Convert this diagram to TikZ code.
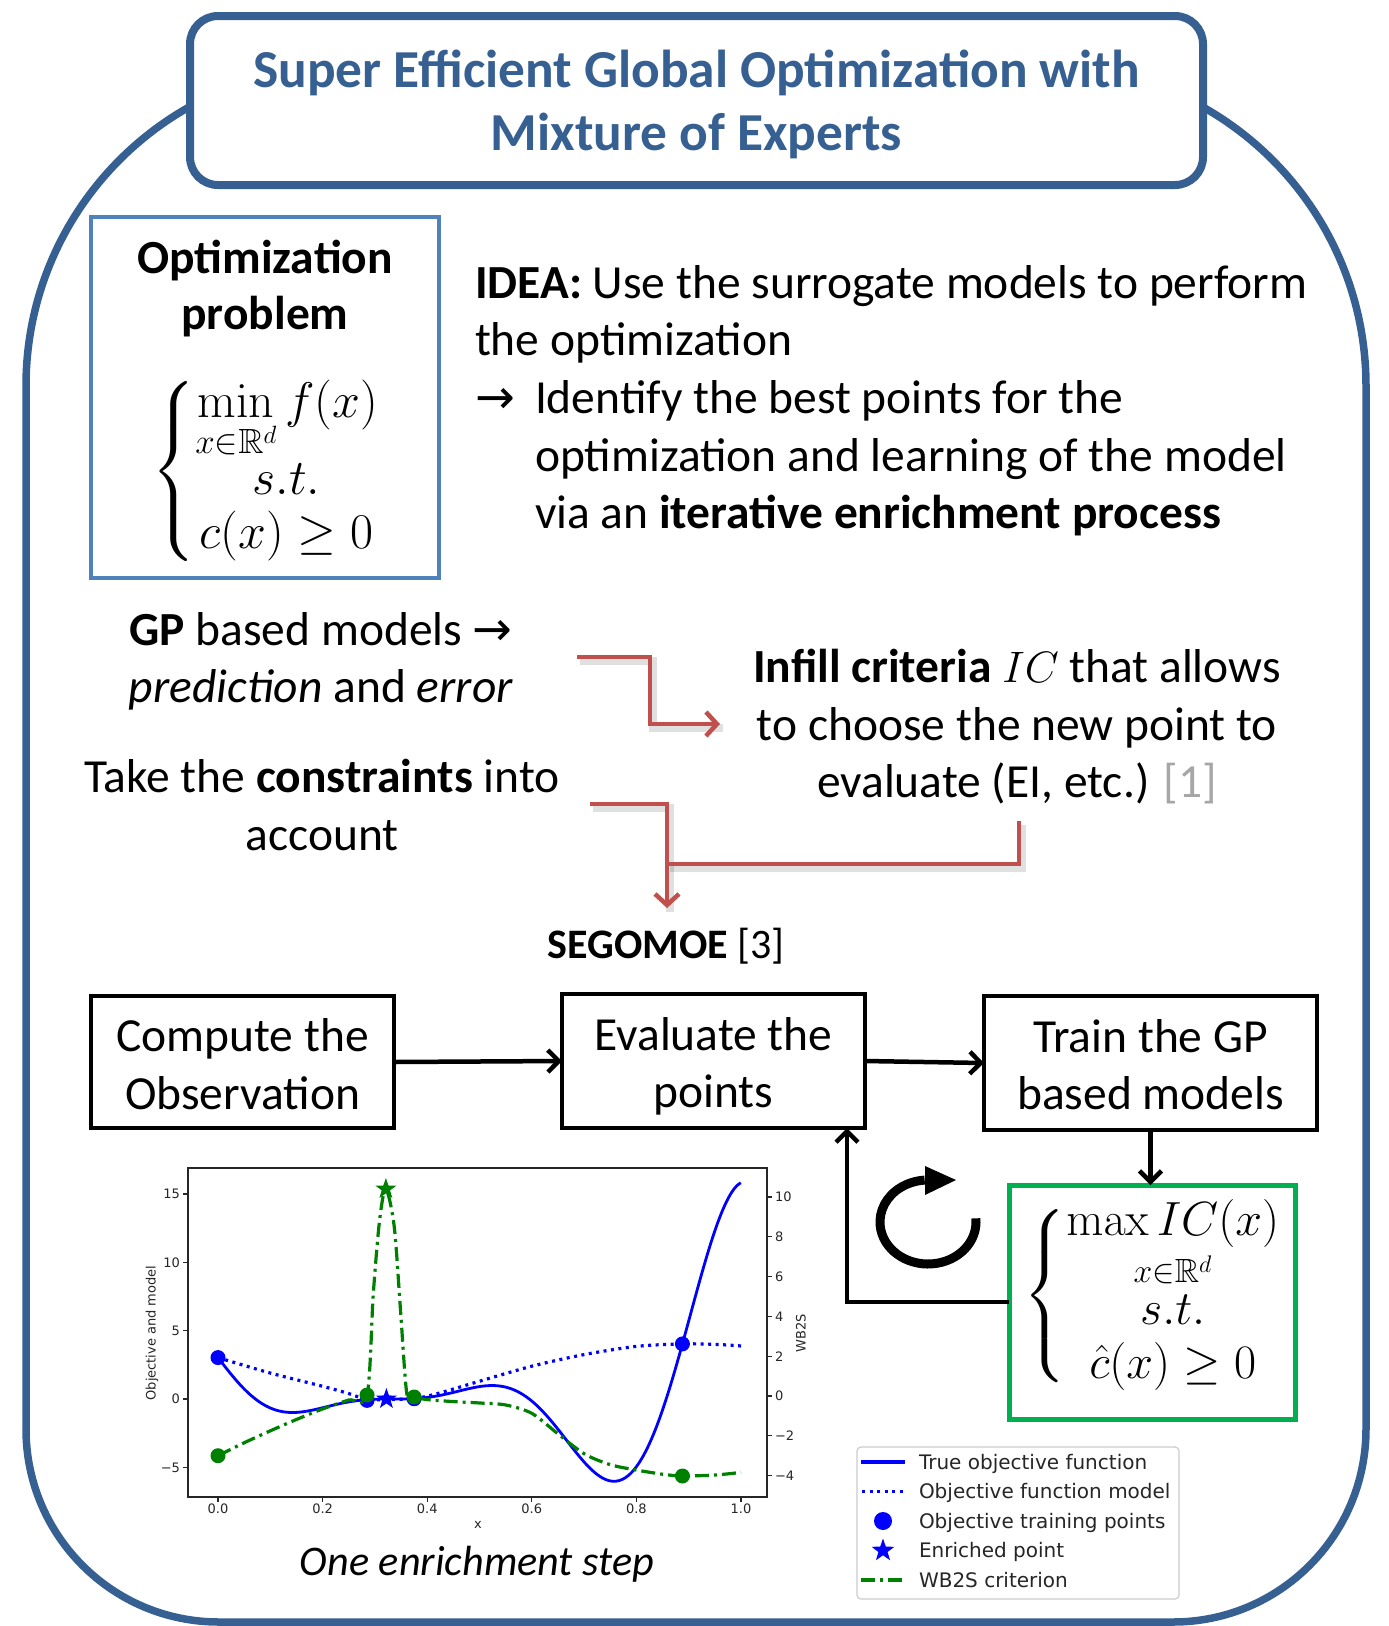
\RequirePackage{fix-cm}
\documentclass[tikz,border=0pt]{standalone}
\usepackage{amsmath,amssymb}
\usepackage[no-math]{fontspec}
\setmainfont{Carlito}
\newfontfamily\dejavu{DejaVu Sans}
\usetikzlibrary{arrows.meta,shapes.geometric}
\DeclareFontFamily{U}{msb}{}
\DeclareFontShape{U}{msb}{m}{n}{<-> msbm10}{}
\definecolor{dkblue}{HTML}{376092}
\definecolor{ltblue}{HTML}{4F81BD}
\definecolor{redc}{HTML}{C0504D}
\definecolor{grn}{HTML}{00B050}
\definecolor{mplgreen}{HTML}{008000}
\definecolor{refgray}{HTML}{A6A6A6}
\newcommand{\plotfont}{\dejavu\fontsize{13}{15}\selectfont}
\newcommand{\legfont}{\dejavu\fontsize{20}{24}\selectfont}
\newcommand{\shortbrace}{\delimiterfactor=850 \delimitershortfall=30pt }
\begin{document}
\begin{tikzpicture}[x=1pt,y=-1pt,
  every node/.style={inner sep=0pt,outer sep=0pt},
  body/.style={font=\fontsize{47.5}{57}\selectfont},
  titlef/.style={font=\fontsize{53.4}{63}\selectfont\bfseries,text=dkblue},
  procbox/.style={draw=black,line width=4.5,rectangle},
  blackarrow/.style={draw=black,line width=4.5,-{Straight Barb[length=11pt,width=22pt]}},
  redarrow/.style={draw=redc,line width=4.5},
  redtip/.style={-{Straight Barb[length=11pt,width=24pt]}},
  rshadow/.style={draw=black,opacity=0.12,line width=8},
  tick/.style={black!85,line width=1.2},
  ticklab/.style={font=\plotfont,text=black!85},
  objline/.style={blue,line width=2.8},
  modline/.style={blue,line width=3.2,dash pattern=on 3pt off 4.5pt},
  wbline/.style={mplgreen,line width=3.2,dash pattern=on 14pt off 5pt on 3pt off 5pt},
  bstar/.style={star,star points=5,star point ratio=2.5,fill=blue,minimum size=22pt},
  gstar/.style={star,star points=5,star point ratio=2.5,fill=mplgreen,minimum size=22pt}]
\useasboundingbox (0,0) rectangle (1389,1626);
\fill[white] (0,0) rectangle (1389,1626);

% outer frame
\draw[dkblue,line width=7.5] (700,66) -- (346,66) arc[start angle=-90,end angle=-180,radius=320]
  -- (26,1429) arc[start angle=180,end angle=90,radius=193]
  -- (1173,1622) arc[start angle=90,end angle=0,radius=193]
  -- (1366,386) arc[start angle=0,end angle=-90,radius=320] -- cycle;

% title
\node[draw=dkblue,line width=8,rounded corners=28pt,fill=white,minimum width=1013pt,minimum height=169pt] (T) at (696.5,100.5) {};
\node[titlef,anchor=base] (ti1) at (696.5,87) {Super Efficient Global Optimization with};
\node[titlef,anchor=base] (ti2) at (696.5,150) {Mixture of Experts};

% optimization problem box
\node[draw=ltblue,line width=4,minimum width=348pt,minimum height=361pt] (P) at (265,397.5) {};
\node[body,anchor=base] (op1) at (265,273) {\textbf{Optimization}};
\node[body,anchor=base] (op2) at (265,329) {\textbf{problem}};
\node (opm) at (265,471) {\fontsize{50}{60}\selectfont\shortbrace$\left\{\begin{array}{@{}c@{}}\min\limits_{x\in\mathbb{R}^d} f(x)\\[-8pt] s.t.\\[-6pt] c(x)\geq 0\end{array}\right.$};

% idea text
\node[body,anchor=base west] (id1) at (475,298) {\textbf{IDEA:} Use the surrogate models to perform};
\node[body,anchor=base west] (id2) at (475,355) {the optimization};
\node[body,anchor=base west] (id3a) at (475,413) {{\dejavu →}};
\node[body,anchor=base west] (id3) at (535,413) {Identify the best points for the};
\node[body,anchor=base west] (id4) at (535,471) {optimization and learning of the model};
\node[body,anchor=base west] (id5) at (535,528) {via an \textbf{iterative enrichment process}};

% middle texts
\node[body,anchor=base] (gp1) at (321,645) {\textbf{GP} based models {\dejavu →}};
\node[body,anchor=base] (gp2) at (321,702) {\textit{prediction} and \textit{error}};
\node[body,anchor=base] (tk1) at (322,792) {Take the \textbf{constraints} into};
\node[body,anchor=base] (tk2) at (322,850) {account};
\node[body,anchor=base] (in1) at (1017,682) {\textbf{Infill criteria} {\fontsize{44}{50}\selectfont$IC$} that allows};
\node[body,anchor=base] (in2) at (1017,740) {to choose the new point to};
\node[body,anchor=base] (in3) at (1017,797) {evaluate (EI, etc.) \textcolor{refgray}{[1]}};
\node[font=\fontsize{42}{50}\selectfont,anchor=base] (seg) at (666,958) {\textbf{SEGOMOE} [3]};

% red connectors
\coordinate (r1s) at (577,657);
\coordinate (r1e) at (720,724);
\coordinate (r2s) at (590,804);
\coordinate (r2e) at (667,908);
\coordinate (r3s) at (1019,821);
\coordinate (r3e) at (667,864);
\begin{scope}[transform canvas={shift={(3pt,-4pt)}}]
  \draw[rshadow] (r1s) -- (650,657) |- (r1e);
  \draw[rshadow] (r2s) -| (r2e);
  \draw[rshadow] (r3s) |- (r3e);
\end{scope}
\draw[redarrow,redtip] (r1s) -- (650,657) |- (r1e);
\draw[redarrow,redtip] (r2s) -| (r2e);
\draw[redarrow] (r3s) |- (r3e);

% process boxes
\node[procbox,minimum width=303pt,minimum height=132pt] (A) at (242.5,1062) {};
\node[procbox,minimum width=303pt,minimum height=134pt] (B) at (713.5,1061) {};
\node[procbox,minimum width=333pt,minimum height=134pt] (C) at (1150.5,1063) {};
\node[draw=grn,line width=5,minimum width=286pt,minimum height=234pt] (D) at (1152,1302) {};
\node[body,anchor=base] (a1) at (242.5,1051) {Compute the};
\node[body,anchor=base] (a2) at (242.5,1109) {Observation};
\node[body,anchor=base] (b1) at (713.5,1050) {Evaluate the};
\node[body,anchor=base] (b2) at (713.5,1107) {points};
\node[body,anchor=base] (c1) at (1150.5,1052) {Train the GP};
\node[body,anchor=base] (c2) at (1150.5,1109) {based models};
\node (dm) at (1152,1296) {\fontsize{48}{56}\selectfont\shortbrace$\left\{\begin{array}{@{}c@{}}\underset{x\in\mathbb{R}^d}{\max IC(x)}\\[-3pt] s.t.\\[-2pt] \hat{c}(x)\geq 0\end{array}\right.$};

\coordinate (Bin) at (847,1128);
\draw[blackarrow] (A.east) -- (B.west);
\draw[blackarrow] (B.east) -- (C.west);
\draw[blackarrow] (C.south) -- (C.south |- D.north);
\draw[blackarrow] (D.west) -| (Bin);

% cycle icon
\begin{scope}[shift={(928pt,-1222pt)},x=1pt,y=1pt]
  \draw[line width=9] (5:48pt and 42pt) arc[start angle=5,end angle=-266,x radius=48pt,y radius=42pt];
  \fill (-3,56) -- (28,42) -- (-3,27) -- cycle;
\end{scope}

% plot axes
\draw[black!85,line width=1.3] (188,1168) rectangle (767,1497);
\foreach \v/\t in {0/0.0,0.2/0.2,0.4/0.4,0.6/0.6,0.8/0.8,1/1.0}{
  \draw[tick] ({218+523*\v},1497) -- ({218+523*\v},1502);
  \node[ticklab,anchor=base] at ({218+523*\v},1513) {\t};
}
\foreach \v/\t in {15/15,10/10,5/5,0/0,-5/{−5}}{
  \draw[tick] (188,{1399-13.67*\v}) -- (183,{1399-13.67*\v});
  \node[ticklab,anchor=east] at (180,{1399-13.67*\v}) {\t};
}
\foreach \v/\t in {10/10,8/8,6/6,4/4,2/2,0/0,-2/{−2},-4/{−4}}{
  \draw[tick] (767,{1396-19.9*\v}) -- (772,{1396-19.9*\v});
  \node[ticklab,anchor=west] at (775,{1396-19.9*\v}) {\t};
}
\node[ticklab,rotate=90] (ylab) at (152,1333) {Objective and model};
\node[ticklab,rotate=90] (y2lab) at (801,1333) {WB2S};
\node[ticklab,anchor=base] (xlab) at (478,1528) {x};

% objective curves
\begin{scope}[shift={(218pt,-1399pt)},x=523pt,y=13.67pt]
  \draw[objline] plot[domain=0:1,samples=160,smooth] (\x,{(6*\x-2)^2*sin(deg(12*\x-4))});
  \draw[modline] plot[smooth] coordinates {(0,3.03) (0.1,1.9) (0.2,0.93) (0.25,0.4) (0.285,-0.04) (0.33,-0.03) (0.375,0.03) (0.42,0.4) (0.5,1.3) (0.6,2.4) (0.7,3.25) (0.8,3.85) (0.888,4.03) (0.95,4.0) (1.0,3.88)};
  \foreach \p/\q in {0/3.03,0.285/-0.1,0.375/0.02,0.888/4.03}{
    \fill[blue] (\p,\q) circle[radius=7.5pt];
  }
  \node[bstar] (estar) at (0.322,0) {};
\end{scope}
% WB2S
\begin{scope}[shift={(218pt,-1396pt)},x=523pt,y=19.9pt]
  \draw[wbline] plot[smooth,tension=0.5] coordinates {(0,-3.0) (0.05,-2.35) (0.1,-1.75) (0.15,-1.18) (0.2,-0.65) (0.25,-0.2) (0.285,0.05) (0.297,5.16) (0.309,8.84) (0.321,10.4) (0.337,8.5) (0.349,4.3) (0.361,0.13) (0.375,-0.05) (0.4,-0.18) (0.45,-0.28) (0.5,-0.35) (0.55,-0.45) (0.6,-0.87) (0.65,-1.9) (0.7,-2.9) (0.75,-3.45) (0.8,-3.72) (0.85,-3.93) (0.888,-4.02) (0.95,-3.97) (1.0,-3.84)};
  \foreach \p/\q in {0/-3.0,0.285/0.05,0.375/-0.05,0.888/-4.02}{
    \fill[mplgreen] (\p,\q) circle[radius=7.5pt];
  }
  \node[gstar] (wstar) at (0.321,10.4) {};
\end{scope}
\node[font=\fontsize{42.2}{50}\selectfont\itshape,anchor=base] (cap) at (477,1575) {One enrichment step};

% legend
\draw[black!20,line width=1.2,fill=white,rounded corners=4pt] (857,1447) rectangle (1179,1599);
\draw[objline,line width=3.5] (861,1462) -- (905,1462);
\draw[modline,line width=3.5] (862,1491.5) -- (905,1491.5);
\fill[blue] (883,1521) circle[radius=9];
\node[bstar,minimum size=24pt] (lstar) at (883,1550.5) {};
\draw[wbline,line width=3.5] (861,1580) -- (905,1580);
\node[font=\legfont,anchor=base west,text=black!85] (l1) at (919,1469) {True objective function};
\node[font=\legfont,anchor=base west,text=black!85] (l2) at (919,1498.5) {Objective function model};
\node[font=\legfont,anchor=base west,text=black!85] (l3) at (919,1528) {Objective training points};
\node[font=\legfont,anchor=base west,text=black!85] (l4) at (919,1557.5) {Enriched point};
\node[font=\legfont,anchor=base west,text=black!85] (l5) at (919,1587) {WB2S criterion};
\end{tikzpicture}
\end{document}
